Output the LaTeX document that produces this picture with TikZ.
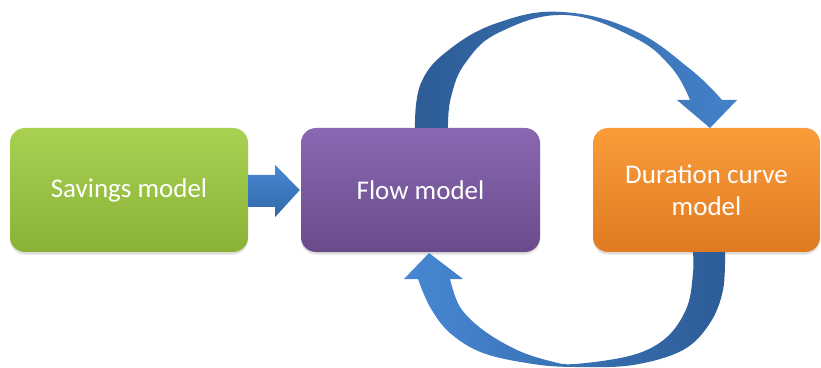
\documentclass[tikz,border=0pt]{standalone}
\usepackage{fontspec}
\setmainfont{Carlito}
\usetikzlibrary{calc,shadows}
\definecolor{grnT}{HTML}{A8D152}
\definecolor{grnB}{HTML}{8AB236}
\definecolor{purT}{HTML}{8A68B2}
\definecolor{purB}{HTML}{694B8A}
\definecolor{orgT}{HTML}{FB9C3A}
\definecolor{orgB}{HTML}{E07A22}
\definecolor{bluD}{HTML}{2D5C96}
\definecolor{bluL}{HTML}{4788D4}
\definecolor{bluM}{HTML}{3A7BC4}
\begin{document}
\begin{tikzpicture}[x=1pt,y=1pt,
  box/.style={rounded corners=15pt, minimum height=124pt, inner sep=0pt,
    text=white, font=\fontsize{27}{32}\selectfont, align=center,
    drop shadow={opacity=0.25,shadow xshift=0pt,shadow yshift=-2.5pt}},
  blockarrow/.style={draw=none}]
\useasboundingbox (0,0) rectangle (821,367);

\node[box, minimum width=238pt, top color=grnT, bottom color=grnB] (sav) at (129,177) {Savings model};
\node[box, minimum width=239pt, top color=purT, bottom color=purB] (flow) at (420.5,177) {Flow model};
\node[box, minimum width=227pt, top color=orgT, bottom color=orgB] (dur) at (706.5,177) {Duration curve\\model};

% straight block arrow savings -> flow
\path[blockarrow, top color=bluL, bottom color=bluM!85!black]
  ($(sav.east)+(0,15)$) -- ($(sav.east)+(27,15)$) -- ($(sav.east)+(27,25)$)
  -- ($(flow.west)+(-1,0)$)
  -- ($(sav.east)+(27,-27)$) -- ($(sav.east)+(27,-17)$) -- ($(sav.east)+(0,-17)$) -- cycle;

% top curved arrow flow -> duration
\path[blockarrow, left color=bluD, right color=bluL!95!black]
  plot[smooth, tension=0.7] coordinates {(415,239) (421,284) (450,318) (500,345) (562,355) (633,337) (690,298) (722,267)}
  -- (737,267) -- (710,239) -- (677,267)
  -- plot[smooth, tension=0.7] coordinates {(690,267) (671,300) (633,330) (565,352) (500,335) (466,305) (451,270) (448,239)}
  -- cycle;

% bottom curved arrow duration -> flow
\path[blockarrow, left color=bluL, right color=bluD]
  plot[smooth, tension=0.6] coordinates {(725,115) (723,77) (710,44) (683,17) (633,2) (575,0) (533,3) (483,14) (450,34) (430,60) (418,88)}
  -- (404,88) -- (429,114) -- (463,88)
  -- plot[smooth, tension=0.6] coordinates {(450,88) (460,60) (483,37) (517,17) (550,6) (575,3) (633,12) (667,30) (687,60) (693,94) (693,115)}
  -- cycle;
\end{tikzpicture}
\end{document}
